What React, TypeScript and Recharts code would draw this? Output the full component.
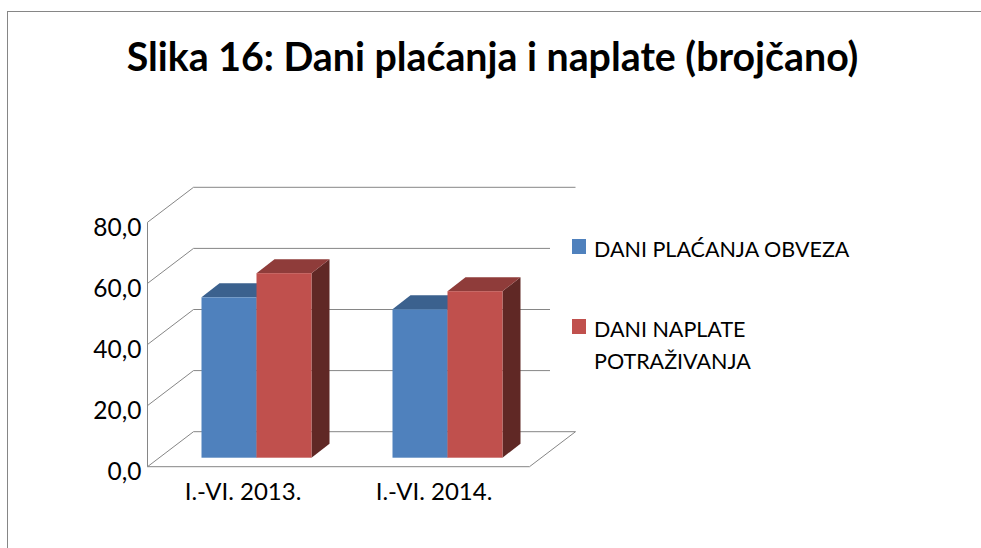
import { BarChart, Bar, XAxis, YAxis, CartesianGrid, Legend } from "recharts";

const categories = ["I.-VI. 2013.", "I.-VI. 2014."];
const danaPlacanja = [52.5, 48.6];
const danaNaplate = [60.4, 54.5];
const yTicks = [0, 20, 40, 60, 80];

const seriesNames = ["DANI PLAĆANJA OBVEZA", "DANI NAPLATE POTRAŽIVANJA"];
const chartData = categories.map((name, i) => ({
  name,
  placanje: danaPlacanja[i],
  naplata: danaNaplate[i],
}));

const FONT = "Lato, 'Open Sans', sans-serif";
const GRID = "#868686";

// depth of the fake 3D box
const WALL_DX = 46;
const WALL_DY = -35;
const BAR_DX = 18;
const BAR_DY = -14;
// bars stand in the middle of the floor
const SHIFT_X = 13.5;
const SHIFT_Y = -9;

const box3d = (front: string, top: string, side: string) => (props: any) => {
  const x = props.x + SHIFT_X;
  const y = props.y + SHIFT_Y;
  const { width: w, height: h } = props;
  return (
    <g>
      <polygon
        points={`${x + w},${y} ${x + w + BAR_DX},${y + BAR_DY} ${x + w + BAR_DX},${y + h + BAR_DY} ${x + w},${y + h}`}
        fill={side}
      />
      <polygon
        points={`${x},${y} ${x + BAR_DX},${y + BAR_DY} ${x + w + BAR_DX},${y + BAR_DY} ${x + w},${y}`}
        fill={top}
      />
      <rect x={x} y={y} width={w} height={h} fill={front} />
    </g>
  );
};

const WallLine = (props: any) => {
  const { x1, y1, x2, index } = props;
  return (
    <g key={props.key} fill="none" stroke={GRID} strokeWidth={1}>
      <polyline
        points={`${x1},${y1} ${x1 + WALL_DX},${y1 + WALL_DY} ${x2 + WALL_DX},${y1 + WALL_DY}`}
      />
      {index === 0 && <line x1={x2} y1={y1} x2={x2 + WALL_DX} y2={y1 + WALL_DY} />}
    </g>
  );
};

const LegendBox = ({ payload }: any) => (
  <div style={{ fontFamily: FONT, fontSize: 21.5, lineHeight: "32px", color: "#000" }}>
    {(payload || []).map((item: any, i: number) => (
      <div
        key={i}
        style={{
          position: "absolute",
          left: 22,
          top: i === 0 ? 21 : 101,
          width: 270,
          paddingLeft: 22,
        }}
      >
        <span
          style={{
            position: "absolute",
            left: 0,
            top: 6,
            width: 14,
            height: 15,
            background: item.color,
          }}
        />
        {item.value}
      </div>
    ))}
  </div>
);

export default function App() {
  return (
    <div style={{ position: "absolute", left: 0, top: 0, width: 981, height: 548, background: "#fff", overflow: "hidden" }}>
      <div
        style={{
          position: "absolute",
          left: 7,
          top: 11,
          width: 974,
          height: 537,
          borderTop: `1px solid ${GRID}`,
          borderLeft: `1px solid ${GRID}`,
        }}
      />
      <div
        style={{
          position: "absolute",
          left: 0,
          width: 985,
          top: 34,
          textAlign: "center",
          fontFamily: FONT,
          fontWeight: 700,
          fontSize: 39.3,
          lineHeight: "44px",
          color: "#000",
          whiteSpace: "nowrap",
        }}
      >
        Slika 16: Dani plaćanja i naplate (brojčano)
      </div>
      <BarChart
        width={981}
        height={548}
        data={chartData}
        margin={{ top: 222.3, right: 451.5, bottom: 41.3, left: 87.5 }}
        barCategoryGap={40.5}
        barGap={0}
        style={{ position: "absolute", left: 0, top: 0 }}
      >
        <CartesianGrid vertical={false} horizontal={WallLine} />
        <XAxis
          dataKey="name"
          height={40}
          axisLine={{ stroke: GRID }}
          tickLine={false}
          tick={{ fontFamily: FONT, fontSize: 24, fill: "#000", dy: 8 }}
        />
        <YAxis
          width={60}
          domain={[0, 80]}
          ticks={yTicks}
          axisLine={{ stroke: GRID }}
          tickLine={false}
          tickMargin={0}
          tick={{ fontFamily: FONT, fontSize: 24.5, fill: "#000", dy: 5 }}
          tickFormatter={(v: number) => v.toFixed(1).replace(".", ",")}
        />
        <Legend
          layout="vertical"
          align="center"
          verticalAlign="middle"
          content={LegendBox}
          itemSorter={(item: any) => seriesNames.indexOf(item.value)}
          wrapperStyle={{ left: 550, top: 212, width: 320, height: 213, background: "#fff" }}
        />
        <Bar
          dataKey="placanje"
          name={seriesNames[0]}
          fill="#4F81BD"
          isAnimationActive={false}
          shape={box3d("#4F81BD", "#3B618E", "#2F4D71")}
        />
        <Bar
          dataKey="naplata"
          name={seriesNames[1]}
          fill="#C0504D"
          isAnimationActive={false}
          shape={box3d("#C0504D", "#8F3C3A", "#602825")}
        />
      </BarChart>
    </div>
  );
}
